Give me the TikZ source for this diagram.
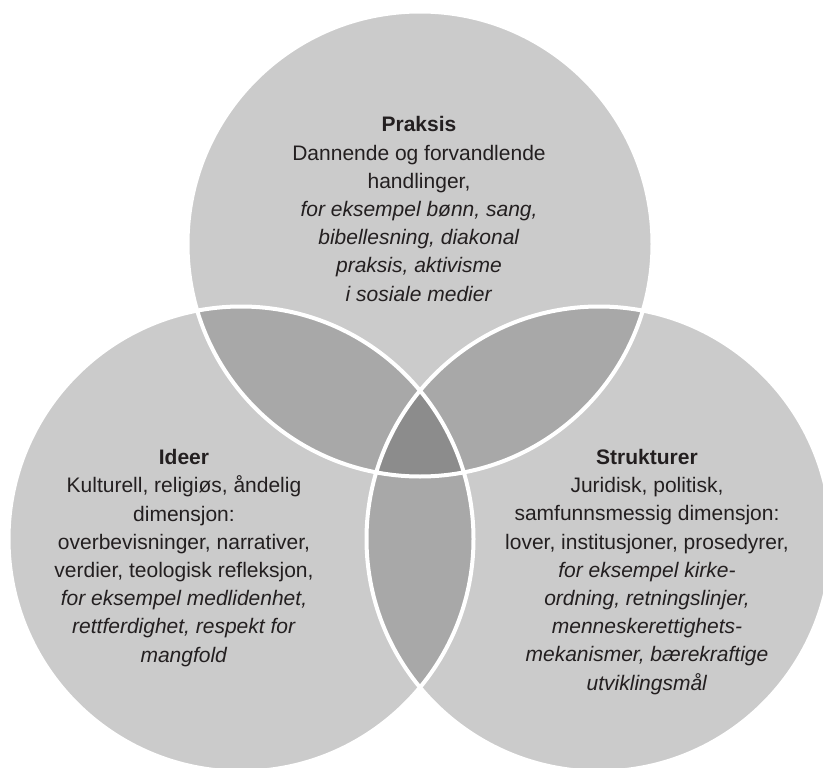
\documentclass[tikz,border=0pt]{standalone}
\usepackage{fontspec}
\setmainfont{Liberation Sans}
\definecolor{lightg}{HTML}{CBCBCB}
\definecolor{midg}{HTML}{A8A8A8}
\definecolor{darkg}{HTML}{8C8C8C}
\definecolor{txt}{HTML}{231F20}
\begin{document}
\begin{tikzpicture}[x=1pt,y=-1pt,
  venntext/.style={align=center,anchor=base,text=txt,inner sep=0pt,
    font=\fontsize{21}{28.2}\selectfont},
  sep/.style={draw=white,line width=4pt}]
\useasboundingbox (0,0) rectangle (823,768);
\clip (0,0) rectangle (823,768);
\def\R{232.5}
\coordinate (cT) at (420,244);
\coordinate (cL) at (241,539);
\coordinate (cR) at (599,539);
% base fills
\fill[lightg] (cT) circle[radius=\R];
\fill[lightg] (cL) circle[radius=\R];
\fill[lightg] (cR) circle[radius=\R];
% pairwise overlaps
\begin{scope}
  \clip (cT) circle[radius=\R];
  \fill[midg] (cL) circle[radius=\R];
  \fill[midg] (cR) circle[radius=\R];
\end{scope}
\begin{scope}
  \clip (cL) circle[radius=\R];
  \fill[midg] (cR) circle[radius=\R];
\end{scope}
% triple overlap
\begin{scope}
  \clip (cT) circle[radius=\R];
  \clip (cL) circle[radius=\R];
  \fill[darkg] (cR) circle[radius=\R];
\end{scope}
% white separators
\draw[sep] (cT) circle[radius=\R];
\draw[sep] (cL) circle[radius=\R];
\draw[sep] (cR) circle[radius=\R];
% texts (anchor = baseline of last line)
\node[venntext] (praksis) at (419,301) {\textbf{Praksis}\\
  Dannende og forvandlende\\
  handlinger,\\
  \textit{for eksempel bønn, sang,}\\
  \textit{bibellesning, diakonal}\\
  \textit{praksis, aktivisme}\\
  \textit{i sosiale medier}};
\node[venntext] (ideer) at (184,662) {\textbf{Ideer}\\
  Kulturell, religiøs, åndelig\\
  dimensjon:\\
  overbevisninger, narrativer,\\
  verdier, teologisk refleksjon,\\
  \textit{for eksempel medlidenhet,}\\
  \textit{rettferdighet, respekt for}\\
  \textit{mangfold}};
\node[venntext] (strukturer) at (647,690) {\textbf{Strukturer}\\
  Juridisk, politisk,\\
  samfunnsmessig dimensjon:\\
  lover, institusjoner, prosedyrer,\\
  \textit{for eksempel kirke-}\\
  \textit{ordning, retningslinjer,}\\
  \textit{menneskerettighets-}\\
  \textit{mekanismer, bærekraftige}\\
  \textit{utviklingsmål}};
\end{tikzpicture}
\end{document}
